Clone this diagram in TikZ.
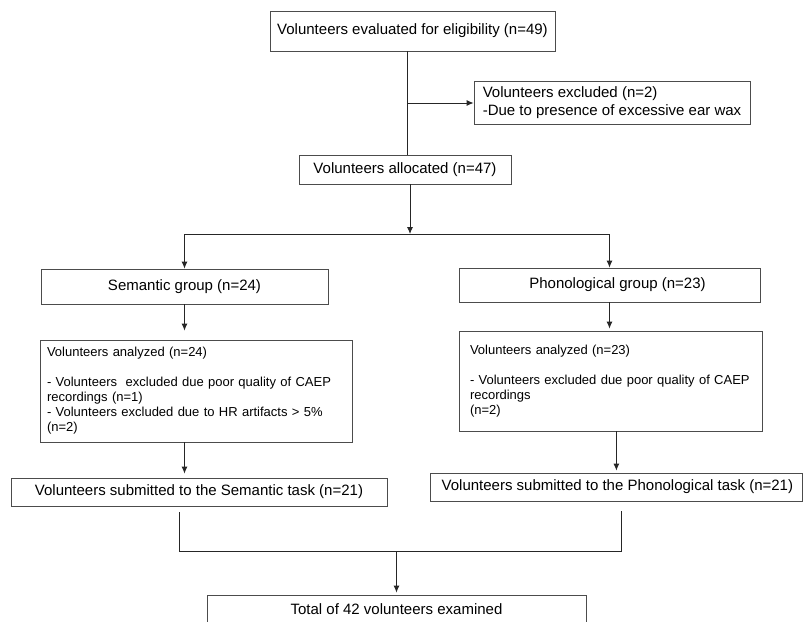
\documentclass[tikz,border=0pt]{standalone}
\usepackage{fontspec}
\setmainfont{Liberation Sans}
\usetikzlibrary{arrows.meta}

\begin{document}
\begin{tikzpicture}[x=1pt,y=-1pt,
    box/.style={draw=black!70,line width=0.8pt,inner sep=0pt,
      font=\fontsize{15}{18}\selectfont},
    notebox/.style={box,align=left,inner xsep=7pt,
      font=\fontsize{13}{15}\selectfont},
    link/.style={draw=black!85,line width=0.9pt},
    arr/.style={link,-{Latex[length=7pt,width=6pt]}}]

      \useasboundingbox (0,0) rectangle (803,621);
      \fill[white] (0,0) rectangle (803,621);

      \node[box,minimum width=285pt,minimum height=40pt] (elig) at (412.5,31){Volunteers evaluated for eligibility (n=49)};
      \node[box,minimum width=276pt,minimum height=43pt,align=left,inner xsep=8pt] (excl) at (612,102.5){Volunteers excluded (n=2)\\-Due to presence of excessive ear wax};
      \node[box,minimum width=212pt,minimum height=29pt] (alloc) at (405,169.5){Volunteers allocated (n=47)};

      \node[box,minimum width=287pt,minimum height=35pt] (sem) at (184.5,286.5){Semantic group (n=24)};
      \node[box,minimum width=301pt,minimum height=34pt] (phon) at (609.5,285){\hspace{16pt}Phonological group (n=23)};

      \node[notebox,text width=298pt,minimum height=102pt] (semana) at (196,391){Volunteers analyzed (n=24)\\[15pt]- Volunteers\ \ excluded due poor quality of CAEP\\recordings (n=1)\\- Volunteers excluded due to HR artifacts > 5\%\\(n=2)};
      \node[notebox,text width=281pt,inner xsep=11pt,minimum height=100pt] (phonana) at (610.5,381){Volunteers analyzed (n=23)\\[15pt]- Volunteers excluded due poor quality of CAEP\\recordings\\(n=2)};

      \node[box,minimum width=376pt,minimum height=28pt] (semtask) at (199,492){Volunteers submitted to the Semantic task (n=21)};
      \node[box,minimum width=372pt,minimum height=28pt,anchor=west] (phontask) at (430,487){\hspace{2pt}Volunteers submitted to the Phonological task (n=21)\hfill};

      \node[box,minimum width=379pt,minimum height=32pt] (total) at (396.5,611){\raisebox{4pt}{Total of 42 volunteers examined}};

      \coordinate (b1) at (407,103);
      \coordinate (split) at (410,234);
      \coordinate (jl) at (179,551);
      \coordinate (jr) at (621,551);

      \draw[link] (elig.south -| b1) -- (alloc.north -| b1);
      \draw[arr] (b1) -- (excl.west |- b1);
      \draw[arr] (alloc.south -| split) -- (split);
      \draw[link] (sem.north |- split) -- (phon.north |- split);
      \draw[arr] (sem.north |- split) -- (sem.north);
      \draw[arr] (phon.north |- split) -- (phon.north);
      \draw[arr,shorten >=9pt] (sem.south) -- (sem.south |- semana.north);
      \draw[arr,shorten >=2pt] (phon.south) -- (phon.south |- phonana.north);
      \draw[arr,shorten >=4pt] (semana.south -| sem.south) -- (semtask.north -| sem.south);
      \draw[arr,shorten >=2pt] (phonana.south -| phontask.center) -- (phontask.north -| phontask.center);
      \draw[link] ([yshift=-6pt]semtask.south -| jl) -- (jl) -- (jr) -- ([yshift=-10pt]phontask.south -| jr);
      \draw[arr,shorten >=2pt] (total.north |- jl) -- (total.north);
    \end{tikzpicture}
\end{document}
